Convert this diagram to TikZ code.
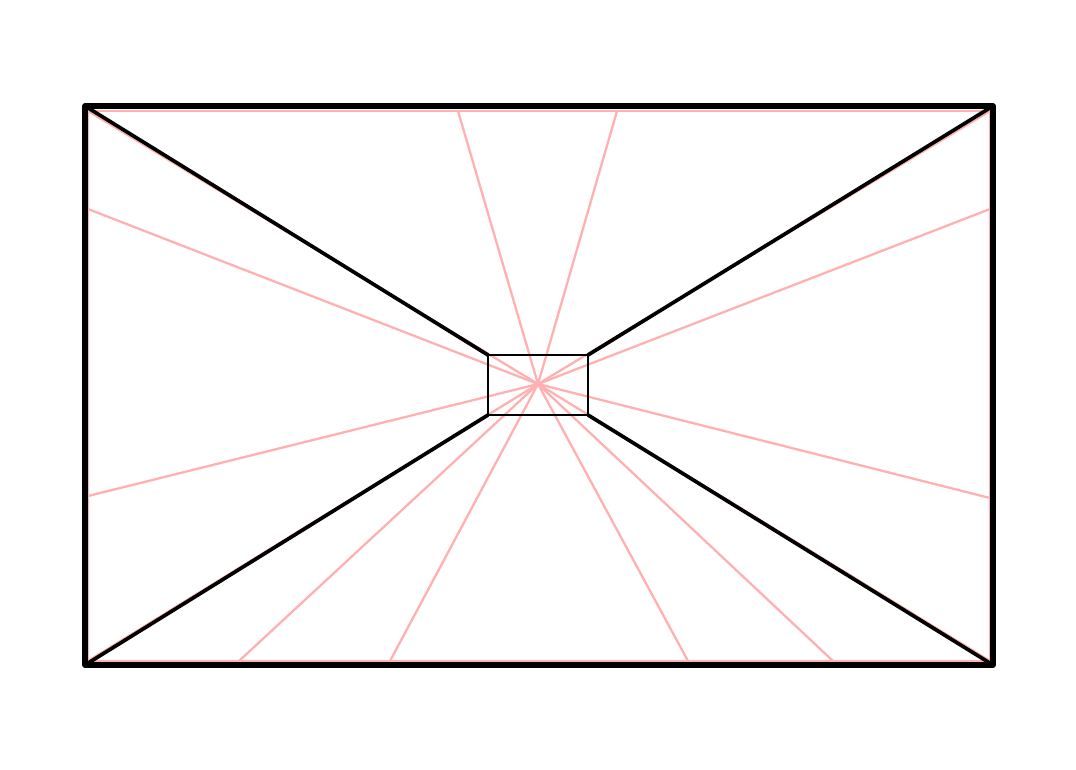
\documentclass[tikz,border=0pt]{standalone}
\usepackage{tikz}
\usetikzlibrary{calc}

\definecolor{guidePink}{RGB}{255,176,176}

\begin{document}
\begin{tikzpicture}[x=0.01cm, y=-0.01cm, line join=round]
	\tikzstyle{guideLine} = [draw=guidePink, line width=0.65pt]
	\tikzstyle{outerFrame} = [draw=black, line width=1.5pt]
	\tikzstyle{edgeLine} = [draw=black, line width=1.05pt]
	\tikzstyle{backWall} = [draw=black, line width=0.75pt]

	\useasboundingbox (0,0) rectangle (1076,769);

	% vanishing point
	\coordinate (vanishPoint) at (538,384);

	% outer frame
	\coordinate (outerTL) at (85,106);
	\coordinate (outerTR) at (993,106);
	\coordinate (outerBR) at (993,665);
	\coordinate (outerBL) at (85,665);

	% back wall
	\coordinate (backTL) at (488,355);
	\coordinate (backTR) at (588,355);
	\coordinate (backBR) at (588,415);
	\coordinate (backBL) at (488,415);

	% guide frame
	\coordinate (guideTL) at (88,111);
	\coordinate (guideTR) at (990,111);
	\coordinate (guideBR) at (990,661);
	\coordinate (guideBL) at (88,661);

	% guide end points
	\coordinate (topA) at (458,111);
	\coordinate (topB) at (617,111);
	\coordinate (leftA) at (88,209);
	\coordinate (leftB) at (88,496);
	\coordinate (rightA) at (990,209);
	\coordinate (rightB) at (990,498);
	\coordinate (bottomA) at (239,661);
	\coordinate (bottomB) at (390,661);
	\coordinate (bottomC) at (688,661);
	\coordinate (bottomD) at (833,661);

	% guide lines
	\draw[guideLine] (guideTL) -- (guideTR) -- (guideBR) -- (guideBL) -- cycle;
	\draw[guideLine] (vanishPoint) -- (guideTL);
	\draw[guideLine] (vanishPoint) -- (guideTR);
	\draw[guideLine] (vanishPoint) -- (guideBR);
	\draw[guideLine] (vanishPoint) -- (guideBL);
	\draw[guideLine] (vanishPoint) -- (topA);
	\draw[guideLine] (vanishPoint) -- (topB);
	\draw[guideLine] (vanishPoint) -- (leftA);
	\draw[guideLine] (vanishPoint) -- (leftB);
	\draw[guideLine] (vanishPoint) -- (rightA);
	\draw[guideLine] (vanishPoint) -- (rightB);
	\draw[guideLine] (vanishPoint) -- (bottomA);
	\draw[guideLine] (vanishPoint) -- (bottomB);
	\draw[guideLine] (vanishPoint) -- (bottomC);
	\draw[guideLine] (vanishPoint) -- (bottomD);

	% room edges
	\draw[edgeLine] (outerTL) -- (backTL);
	\draw[edgeLine] (outerTR) -- (backTR);
	\draw[edgeLine] (outerBR) -- (backBR);
	\draw[edgeLine] (outerBL) -- (backBL);

	\draw[backWall] (backTL) -- (backTR) -- (backBR) -- (backBL) -- cycle;
	\draw[outerFrame] (outerTL) -- (outerTR) -- (outerBR) -- (outerBL) -- cycle;
\end{tikzpicture}
\end{document}
